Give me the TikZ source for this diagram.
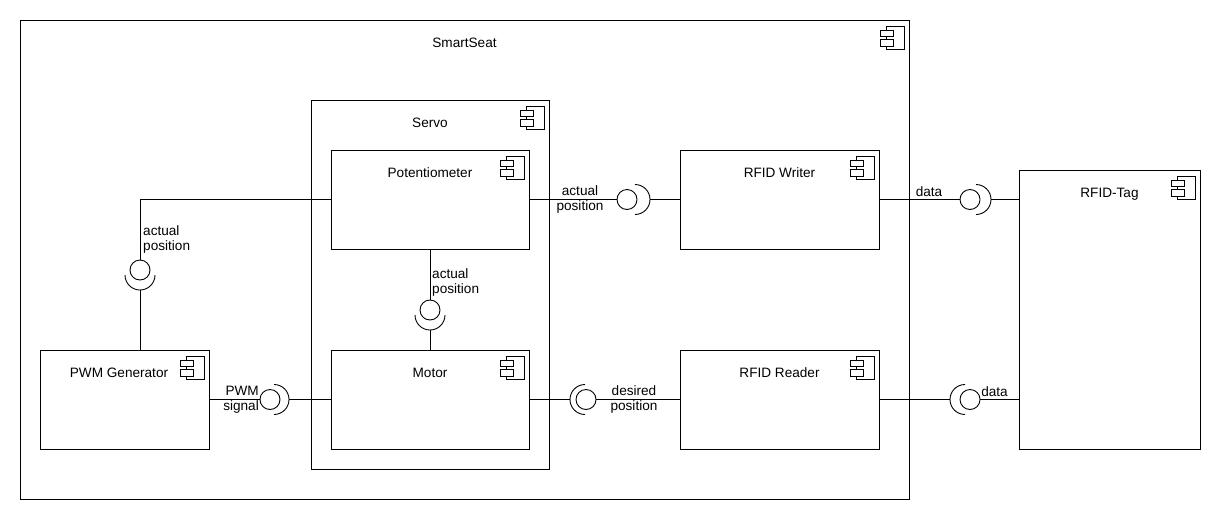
\documentclass[tikz,border=0pt]{standalone}
\usepackage{fontspec}
\setmainfont{Liberation Sans}
\usetikzlibrary{calc}
\tikzset{
  comp/.style={draw, line width=0.9pt, inner sep=0pt, outer sep=0pt},
  ball/.style={draw, circle, minimum size=20pt, inner sep=0pt, outer sep=0pt, line width=0.9pt},
  wire/.style={line width=0.9pt},
  iconln/.style={line width=0.9pt},
  ttl/.style={font=\fontsize{13.6}{15}\selectfont, anchor=base, inner sep=0pt},
  lbl/.style={font=\fontsize{13.6}{15}\selectfont, inner sep=0pt},
}
\newcommand{\compicon}[1]{%
  \begin{scope}[shift={(#1.north east)}]
    \draw[iconln] (-23,-6) rectangle (-4.5,-29);
    \draw[iconln, fill=white] (-28.5,-10) rectangle (-16,-16.5);
    \draw[iconln, fill=white] (-28.5,-19.5) rectangle (-16,-26);
  \end{scope}}
\newcommand{\sockarc}[3]{%
  \draw[wire] (#1) ++(#2:15) arc[start angle=#2, end angle=#3, radius=15];}

\begin{document}
\begin{tikzpicture}[x=1pt,y=1pt]
  \useasboundingbox (0,0) rectangle (1220,-520);
  % --- components ---
  \node[comp, minimum width=889pt, minimum height=479pt] (seat) at (464.5,-259.5) {};
  \node[comp, minimum width=238pt, minimum height=369pt] (servo) at (430,-284.5) {};
  \node[comp, minimum width=198pt, minimum height=99pt] (pot) at (430,-199.5) {};
  \node[comp, minimum width=198pt, minimum height=99pt] (motor) at (430,-399.5) {};
  \node[comp, minimum width=199pt, minimum height=99pt] (writer) at (779.5,-199.5) {};
  \node[comp, minimum width=199pt, minimum height=99pt] (reader) at (779.5,-399.5) {};
  \node[comp, minimum width=169pt, minimum height=99pt] (pwm) at (124.5,-399.5) {};
  \node[comp, minimum width=181pt, minimum height=279pt] (tag) at (1109.5,-309.5) {};
  % --- titles ---
  \node[ttl] (seatttl) at ([yshift=-27.5pt]seat.north) {SmartSeat};
  \node[ttl] (servottl) at ([yshift=-27.5pt]servo.north) {Servo};
  \node[ttl] (potttl) at ([yshift=-27.5pt]pot.north) {Potentiometer};
  \node[ttl] (motorttl) at ([yshift=-27.5pt]motor.north) {Motor};
  \node[ttl] (writerttl) at ([yshift=-27.5pt]writer.north) {RFID Writer};
  \node[ttl] (readerttl) at ([yshift=-27.5pt]reader.north) {RFID Reader};
  \node[ttl] (pwmttl) at ([xshift=-5.5pt,yshift=-27.5pt]pwm.north) {PWM Generator};
  \node[ttl] (tagttl) at ([yshift=-27.5pt]tag.north) {RFID-Tag};
  % --- icons ---
  \compicon{seat}
  \compicon{servo}
  \compicon{pot}
  \compicon{motor}
  \compicon{writer}
  \compicon{reader}
  \compicon{pwm}
  \compicon{tag}
  % --- potentiometer to pwm generator ---
  \node[ball] (bA) at (140,-270) {};
  \coordinate (cA) at (140,-275);
  \coordinate (tA) at (140,-290);
  \draw[wire] (pot.west) -| (bA.north);
  \sockarc{cA}{180}{360}
  \draw[wire] (tA) -- (tA |- pwm.north);
  \node[lbl, anchor=west, align=left] (lA) at (143,-239) {actual\\position};
  % --- potentiometer to motor ---
  \node[ball] (bB) at (430,-310) {};
  \coordinate (cB) at (430,-315);
  \coordinate (tB) at (430,-330);
  \draw[wire] (pot.south) -- (bB.north);
  \sockarc{cB}{180}{360}
  \draw[wire] (tB) -- (motor.north);
  \node[lbl, anchor=west, align=left] (lB) at (432,-282) {actual\\position};
  % --- pwm generator to motor ---
  \node[ball] (bC) at (270,-399.5) {};
  \coordinate (cC) at (274,-399.5);
  \coordinate (tC) at (289,-399.5);
  \draw[wire] (pwm.east) -- (bC.west);
  \sockarc{cC}{90}{-90}
  \draw[wire] (tC) -- (motor.west);
  \node[lbl, anchor=east, align=right] (lC) at (259,-399.5) {PWM\\signal};
  % --- potentiometer to rfid writer ---
  \node[ball] (bD) at (627,-199.5) {};
  \coordinate (cD) at (635,-199.5);
  \coordinate (tD) at (650,-199.5);
  \draw[wire] (pot.east) -- (bD.west);
  \sockarc{cD}{90}{-90}
  \draw[wire] (tD) -- (writer.west);
  \node[lbl, align=center] (lD) at (580,-199.5) {actual\\position};
  % --- rfid reader to motor ---
  \node[ball] (bE) at (586,-399.5) {};
  \coordinate (cE) at (585,-399.5);
  \coordinate (tE) at (570,-399.5);
  \draw[wire] (motor.east) -- (tE);
  \sockarc{cE}{90}{270}
  \draw[wire] (bE.east) -- (reader.west);
  \node[lbl, align=center] (lE) at (634,-399.5) {desired\\position};
  % --- rfid writer to tag ---
  \node[ball] (bF) at (970,-199.5) {};
  \coordinate (cF) at (976,-199.5);
  \coordinate (tF) at (991,-199.5);
  \draw[wire] (writer.east) -- (bF.west);
  \sockarc{cF}{90}{-90}
  \draw[wire] (tF) -- (tF -| tag.west);
  \node[lbl, anchor=base] (lF) at (929,-196) {data};
  % --- tag to rfid reader ---
  \node[ball] (bG) at (970,-399.5) {};
  \coordinate (cG) at (965,-399.5);
  \coordinate (tG) at (950,-399.5);
  \draw[wire] (reader.east) -- (tG);
  \sockarc{cG}{90}{270}
  \draw[wire] (bG.east) -- (bG -| tag.west);
  \node[lbl, anchor=base] (lG) at (994.5,-396) {data};
\end{tikzpicture}
\end{document}
